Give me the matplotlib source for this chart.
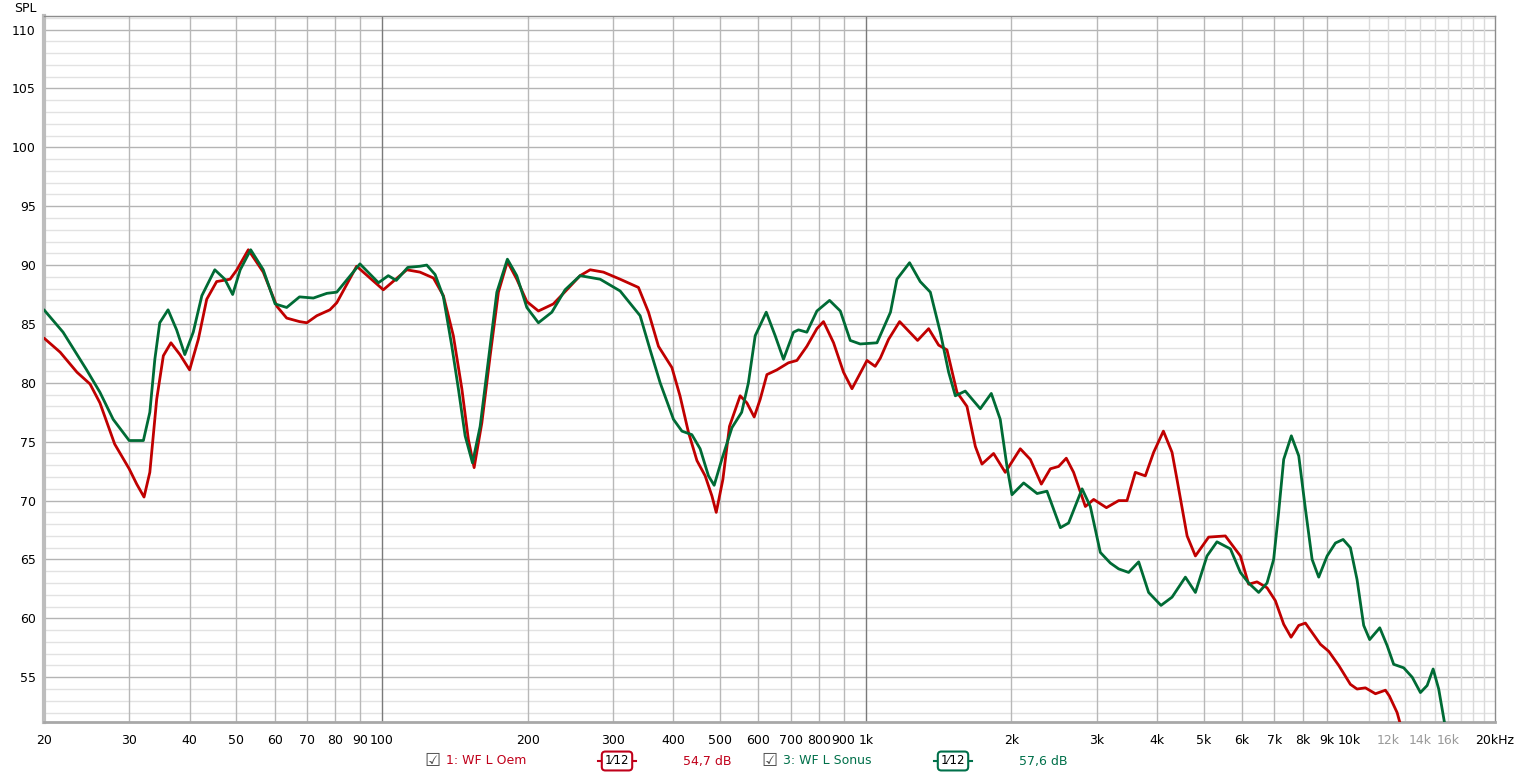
import matplotlib
matplotlib.use("Agg")
import matplotlib.pyplot as plt
from matplotlib.lines import Line2D

W, H = 1516, 776

# WF L Oem (red)
oem_freq = [20, 21.6, 23.4, 24.9, 26.1, 28.0, 30, 31.1, 32.2, 33.1, 34.2, 35.3, 36.6, 38.2, 40,
            41.7, 43.4, 45.5, 48.5, 50.1, 52.9, 56.8, 60.6, 63.5, 67.5, 69.9, 73.3, 78, 80.6,
            88.6, 100.6, 112.5, 119.8, 127.7, 133.9, 140.4, 146.2, 150.8, 155, 160.8, 167.3,
            174, 181.6, 189.9, 199.2, 210.5, 226, 241, 256.7, 269.3, 286.9, 310.6, 338.9,
            355.5, 372.8, 397.4, 413, 430, 447.7, 465.6, 480.8, 490.8, 506.6, 522.7, 550,
            567.9, 588, 605, 624.7, 655, 692, 720.6, 755.5, 792.6, 817.8, 858, 899.7, 936.6,
            982, 1006, 1046, 1072, 1115, 1175, 1226, 1280, 1349, 1415, 1472, 1544, 1619, 1685,
            1739, 1838, 1943, 2087, 2189, 2307, 2408, 2505, 2598, 2690, 2845, 2960, 3145, 3334,
            3469, 3609, 3785, 3938, 4125, 4298, 4401, 4618, 4804, 5117, 5540, 5951, 6190, 6441,
            6756, 7029, 7314, 7575, 7857, 8110, 8374, 8711, 9064, 9506, 10047, 10370, 10792,
            11320, 11871, 12098, 12550, 12747, 13000]
oem_spl = [83.8, 82.6, 80.9, 79.9, 78.3, 74.8, 72.7, 71.4, 70.3, 72.4, 78.6, 82.3, 83.4, 82.4, 81.1,
           83.7, 87.1, 88.6, 88.8, 89.6, 91.3, 89.4, 86.5, 85.5, 85.2, 85.1, 85.7, 86.2, 86.8,
           89.9, 87.9, 89.6, 89.4, 88.9, 87.4, 84.0, 79.5, 75.2, 72.8, 76.6, 82.3,
           87.7, 90.3, 88.8, 86.9, 86.1, 86.7, 87.9, 89.1, 89.6, 89.4, 88.8, 88.1,
           86.0, 83.1, 81.3, 78.9, 75.8, 73.4, 72.1, 70.4, 69.0, 71.8, 76.3, 78.9,
           78.3, 77.1, 78.6, 80.7, 81.1, 81.7, 81.9, 83.1, 84.6, 85.2, 83.4, 80.9, 79.5,
           81.1, 81.9, 81.4, 82.1, 83.7, 85.2, 84.4, 83.6, 84.6, 83.2, 82.8, 79.2, 78.0, 74.6,
           73.1, 74.0, 72.4, 74.4, 73.5, 71.4, 72.7, 72.9, 73.6, 72.4, 69.5, 70.1, 69.4, 70.0,
           70.0, 72.4, 72.1, 74.1, 75.9, 74.1, 71.8, 67.0, 65.3, 66.9, 67.0, 65.3, 62.9, 63.1,
           62.6, 61.5, 59.5, 58.4, 59.4, 59.6, 58.8, 57.8, 57.2, 56.0, 54.4, 54.0, 54.1,
           53.6, 53.9, 53.4, 52.0, 51.0, 49.8]

# WF L Sonus (green)
sonus_freq = [20, 21.9, 24.5, 26.1, 27.8, 30, 32.1, 33.1, 33.9, 34.7, 36.1, 37.6, 39.1, 40.7, 42.4,
              45.1, 47.3, 49.1, 50.9, 53.5, 56.8, 60.1, 63.5, 67.5, 72.1, 76.9, 80.6, 90, 98.3,
              103, 107, 113, 119.8, 123.7, 128.7, 133.9, 139.4, 143.8, 148.5, 153.8, 159.5, 166,
              172.7, 181.6, 189.9, 199.2, 210.5, 224.4, 239, 256.7, 282.4, 310.6, 341.6, 358.3,
              375.8, 400.4, 416.8, 437, 454.6, 473, 486, 504, 529, 554, 572, 590.8, 622.7, 649.8,
              676, 709, 726, 755.5, 792.6, 841.8, 886, 929, 974, 1055, 1125, 1160, 1232, 1296,
              1360, 1426, 1484, 1532, 1606, 1725, 1818, 1897, 1959, 2006, 2121, 2261, 2370, 2526,
              2627, 2801, 2913, 3055, 3204, 3334, 3496, 3667, 3845, 4078, 4298, 4580, 4804, 5077,
              5323, 5675, 5951, 6190, 6493, 6756, 6972, 7140, 7314, 7585, 7857, 8110, 8374, 8641,
              8994, 9357, 9705, 10047, 10370, 10704, 11013, 11555, 11965, 12346, 12951, 13486,
              14024, 14478, 14897, 15298, 15718, 15900]
sonus_spl = [86.2, 84.3, 81.1, 79.2, 76.9, 75.1, 75.1, 77.5, 82.0, 85.1, 86.2, 84.5, 82.4, 84.3, 87.4,
             89.6, 88.8, 87.5, 89.6, 91.3, 89.6, 86.7, 86.4, 87.3, 87.2, 87.6, 87.7, 90.1, 88.5,
             89.1, 88.7, 89.8, 89.9, 90.0, 89.2, 87.3, 83.1, 79.5, 75.5, 73.2, 76.3, 82.0,
             87.7, 90.5, 89.1, 86.4, 85.1, 86.0, 87.9, 89.1, 88.8, 87.8, 85.7, 82.8,
             80.0, 76.9, 75.9, 75.6, 74.4, 72.1, 71.3, 73.5, 76.2, 77.5, 80.0, 84.0, 86.0, 84.0,
             82.0, 84.3, 84.5, 84.3, 86.1, 87.0, 86.1, 83.6, 83.3, 83.4, 86.0, 88.8, 90.2, 88.6,
             87.7, 84.3, 80.9, 78.9, 79.3, 77.8, 79.1, 76.9, 72.9, 70.5, 71.5, 70.6, 70.8, 67.7,
             68.1, 71.0, 69.5, 65.6, 64.7, 64.2, 63.9, 64.8, 62.2, 61.1, 61.8, 63.5, 62.2, 65.3,
             66.5, 65.9, 63.9, 63.0, 62.2, 63.0, 65.0, 69.0, 73.5, 75.5, 73.8, 69.3, 65.0, 63.5,
             65.3, 66.4, 66.7, 66.0, 63.3, 59.4, 58.2, 59.2, 57.7, 56.1, 55.8, 55.0,
             53.7, 54.3, 55.7, 54.0, 51.2, 49.0]

x_ticks = [20, 30, 40, 50, 60, 70, 80, 90, 100, 200, 300, 400, 500, 600, 700, 800, 900,
           1000, 2000, 3000, 4000, 5000, 6000, 7000, 8000, 9000, 10000, 12000, 14000, 16000, 20000]
x_labels = ["20", "30", "40", "50", "60", "70", "80", "90", "100", "200", "300", "400", "500",
            "600", "700", "800", "900", "1k", "2k", "3k", "4k", "5k", "6k", "7k", "8k", "9k",
            "10k", "12k", "14k", "16k", "20kHz"]
y_ticks = [55, 60, 65, 70, 75, 80, 85, 90, 95, 100, 105, 110]

RED = "#C00000"
GREEN = "#006B35"

fig = plt.figure(figsize=(W / 100, H / 100), dpi=100)
fig.patch.set_facecolor("white")
ax = fig.add_axes([44 / W, 1 - 722 / H, (1495 - 44) / W, (722 - 16) / H])
ax.set_xscale("log")
ax.set_xlim(20, 20000)
ax.set_ylim(51.2, 111.15)

# grid
for v in range(52, 112):
    ax.axhline(v, color="#B4B4B4" if v % 5 == 0 else "#E2E2E2", lw=1, zorder=0)
for dec in [10, 100, 1000]:
    for m in range(1, 10):
        f = dec * m
        if f < 20 or f > 10000:
            continue
        c = "#7A7A7A" if m == 1 else "#B8B8B8"
        ax.axvline(f, color=c, lw=1, zorder=0)
for f in range(11000, 20000, 1000):
    ax.axvline(f, color="#DADADA", lw=1, zorder=0)

ax.plot(oem_freq, oem_spl, color=RED, lw=2, solid_joinstyle="round", solid_capstyle="round", zorder=3)
ax.plot(sonus_freq, sonus_spl, color=GREEN, lw=2, solid_joinstyle="round", solid_capstyle="round", zorder=4)

ax.xaxis.set_minor_locator(matplotlib.ticker.NullLocator())
ax.set_xticks(x_ticks)
ax.set_xticklabels(x_labels)
ax.set_yticks(y_ticks)
ax.set_yticklabels([str(v) for v in y_ticks])
ax.tick_params(length=0, labelsize=9, colors="black")
ax.tick_params(axis="x", pad=9)
ax.tick_params(axis="y", pad=6)
for lab in ax.get_xticklabels():
    if lab.get_text() in ("12k", "14k", "16k"):
        lab.set_color("#999999")

for side in ["top", "right"]:
    ax.spines[side].set_color("#8C8C8C")
    ax.spines[side].set_linewidth(1)
ax.spines["left"].set_color("#BDBDBD")
ax.spines["left"].set_linewidth(3)
ax.spines["bottom"].set_color("#A8A8A8")
ax.spines["bottom"].set_linewidth(2)

fig.text(14 / W, 1 - 8 / H, "SPL", fontsize=9, va="center", ha="left")


def px(x, y):
    return x / W, 1 - y / H


def legend_item(x0, name, color, level, box_x, lvl_x):
    fig.text(*px(x0, 761), "\u2611", fontsize=13, color="#505050", va="center", ha="center")
    fig.text(*px(x0 + 14, 761), name, fontsize=9, color=color, va="center", ha="left")
    fig.add_artist(Line2D([(box_x - 19) / W, (box_x + 19) / W], [1 - 761 / H] * 2,
                          color=color, lw=1.5, zorder=1))
    fig.text(*px(box_x, 761), "1\u204412", fontsize=8.5, color="black", va="center", ha="center",
             zorder=3, bbox=dict(boxstyle="round,pad=0.25,rounding_size=0.3", fc="white", ec=color, lw=1.5))
    fig.text(*px(lvl_x, 761), level, fontsize=9, color=color, va="center", ha="left")


legend_item(432, "1: WF L Oem", "#C0001A", "54,7 dB", 617, 683)
legend_item(769, "3: WF L Sonus", "#00704A", "57,6 dB", 953, 1019)

fig.savefig("out.png", dpi=100)
